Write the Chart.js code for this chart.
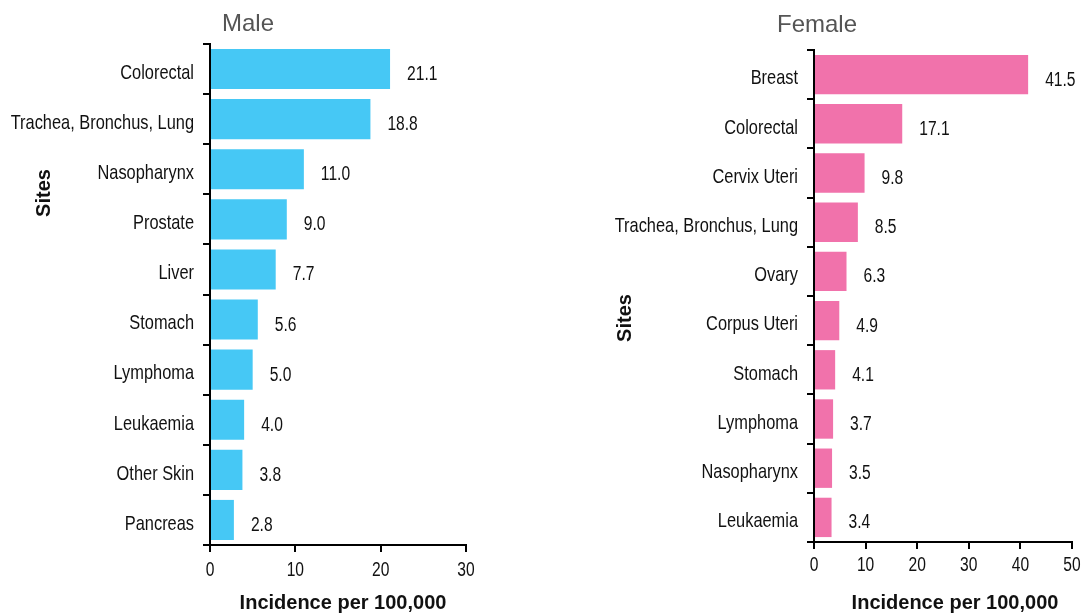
<!DOCTYPE html>
<html>
<head>
<meta charset="utf-8">
<script src="https://cdn.jsdelivr.net/npm/chart.js@4.4.1/dist/chart.umd.min.js"></script>
<style>
  html,body{margin:0;padding:0;background:#fff;}
  #wrap{position:relative;width:1083px;height:614px;overflow:hidden;}
  .box{position:absolute;top:0;height:614px;}
</style>
</head>
<body>
<div id="wrap">
  <div class="box" style="left:0;width:540px"><canvas id="maleChart"></canvas></div>
  <div class="box" style="left:540px;width:543px"><canvas id="femaleChart"></canvas></div>
</div>
<script>
const maleSites=['Colorectal','Trachea, Bronchus, Lung','Nasopharynx','Prostate','Liver','Stomach','Lymphoma','Leukaemia','Other Skin','Pancreas'];
const maleRates=[21.1,18.8,11.0,9.0,7.7,5.6,5.0,4.0,3.8,2.8];
const femaleSites=['Breast','Colorectal','Cervix Uteri','Trachea, Bronchus, Lung','Ovary','Corpus Uteri','Stomach','Lymphoma','Nasopharynx','Leukaemia'];
const femaleRates=[41.5,17.1,9.8,8.5,6.3,4.9,4.1,3.7,3.5,3.4];
const maleTicks=[0,10,20,30];
const femaleTicks=[0,10,20,30,40,50];

const SANS="'Liberation Sans',Arial,sans-serif";
const SQ=0.78; // the original labels use a condensed face

function narrowText(ctx,text,x,y,align){
  ctx.save(); ctx.translate(x,y); ctx.scale(SQ,1); ctx.textAlign=align; ctx.textBaseline='middle';
  ctx.fillText(text,0,0); ctx.restore();
}

// tick labels of both axes, drawn condensed at the scale's tick pixels
const narrowTicks={id:'narrowTicks',afterDraw(chart,args,opts){
  const ctx=chart.ctx; const xs=chart.scales.x, ys=chart.scales.y;
  ctx.save(); ctx.fillStyle='#111';
  ctx.font='21px '+SANS;
  ys.ticks.forEach((t,i)=>narrowText(ctx,chart.data.labels[i],xs.left-16,ys.getPixelForTick(i)+4,'right'));
  ctx.font='20px '+SANS;
  xs.ticks.forEach((t,i)=>narrowText(ctx,String(t.value),xs.getPixelForTick(i),ys.bottom+opts.dy,'center'));
  ctx.restore();
}};

// value labels at the end of each bar
const valueLabels={id:'valueLabels',afterDatasetsDraw(chart){
  const ctx=chart.ctx; const meta=chart.getDatasetMeta(0); const vals=chart.data.datasets[0].data;
  ctx.save(); ctx.font='20px '+SANS; ctx.fillStyle='#111';
  meta.data.forEach((bar,i)=>narrowText(ctx,vals[i].toFixed(1),bar.x+17,bar.y+5.5,'left'));
  ctx.restore();
}};

// chart title and axis titles
const freeText={id:'freeText',afterDraw(chart,args,opts){
  const ctx=chart.ctx;
  (opts.items||[]).forEach(t=>{
    ctx.save(); ctx.font=t.font; ctx.fillStyle=t.color; ctx.textAlign=t.align||'center'; ctx.textBaseline='middle';
    ctx.translate(t.x,t.y); if(t.rot)ctx.rotate(t.rot); ctx.fillText(t.text,0,0); ctx.restore();
  });
}};

function makeChart(id,labels,data,color,max,ticks,layout,texts){
  return new Chart(document.getElementById(id),{
    type:'bar',
    data:{labels,datasets:[{data,backgroundColor:color,barPercentage:0.8,categoryPercentage:1.0}]},
    options:{
      indexAxis:'y',responsive:true,maintainAspectRatio:false,animation:false,
      layout:{padding:{left:0,top:layout.top,right:layout.right,bottom:0}},
      plugins:{legend:{display:false},tooltip:{enabled:false},freeText:{items:texts},narrowTicks:{dy:layout.dy}},
      scales:{
        x:{min:0,max,afterBuildTicks:s=>{s.ticks=ticks.map(v=>({value:v}));},
          ticks:{display:false},
          grid:{drawOnChartArea:false,drawTicks:true,tickLength:7,color:'#000',lineWidth:2},
          border:{display:true,color:'#000',width:2},
          afterFit:s=>{s.height=layout.xh;}},
        y:{ticks:{display:false,autoSkip:false},
          grid:{drawOnChartArea:false,drawTicks:true,tickLength:7,color:'#000',lineWidth:2,offset:true},
          border:{display:true,color:'#000',width:2},
          afterFit:s=>{s.width=layout.yw;}}
      }
    },
    plugins:[valueLabels,narrowTicks,freeText]
  });
}

makeChart('maleChart',maleSites,maleRates,'#46C8F5',30,maleTicks,{top:44,right:74,xh:69,yw:210,dy:25},[
  {text:'Male',x:222,y:24,font:'24px '+SANS,color:'#555',align:'left'},
  {text:'Sites',x:44,y:193,font:'bold 20px '+SANS,color:'#111',rot:-Math.PI/2},
  {text:'Incidence per 100,000',x:343,y:603,font:'bold 20px '+SANS,color:'#111'}
]);
makeChart('femaleChart',femaleSites,femaleRates,'#F172AB',50,femaleTicks,{top:50,right:11,xh:72,yw:274,dy:23},[
  {text:'Female',x:237,y:25,font:'24px '+SANS,color:'#555',align:'left'},
  {text:'Sites',x:85,y:318,font:'bold 20px '+SANS,color:'#111',rot:-Math.PI/2},
  {text:'Incidence per 100,000',x:415,y:603,font:'bold 20px '+SANS,color:'#111'}
]);
</script>
</body>
</html>
